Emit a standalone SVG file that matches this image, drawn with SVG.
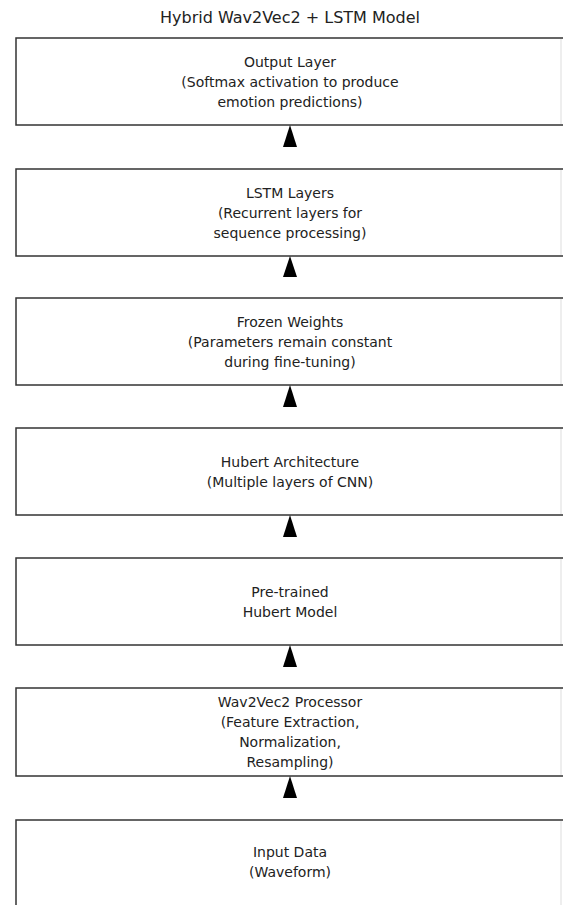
<svg xmlns="http://www.w3.org/2000/svg" width="563" height="905" viewBox="0 0 563 905">
<style>
.box{fill:#fff;stroke:#333;stroke-width:1.5}
.edge{stroke:#ddd;stroke-width:1}
text{font-family:"DejaVu Sans",sans-serif;font-size:14px;fill:#222;text-anchor:middle}
.title{font-size:16px}
.arr{fill:#000}
</style>
<rect width="563" height="905" fill="#fff"/>
<text class="title" x="290" y="23">Hybrid Wav2Vec2 + LSTM Model</text>
<g id="output">
<rect class="box" x="16" y="38" width="555" height="87"/>
<line class="edge" x1="561" y1="39" x2="561" y2="124"/>
<text x="290" y="67">Output Layer</text>
<text x="290" y="87">(Softmax activation to produce</text>
<text x="290" y="107">emotion predictions)</text>
</g>
<g id="lstm">
<rect class="box" x="16" y="169" width="555" height="87"/>
<line class="edge" x1="561" y1="170" x2="561" y2="255"/>
<text x="290" y="198">LSTM Layers</text>
<text x="290" y="218">(Recurrent layers for</text>
<text x="290" y="238">sequence processing)</text>
</g>
<g id="frozen">
<rect class="box" x="16" y="298" width="555" height="87"/>
<line class="edge" x1="561" y1="299" x2="561" y2="384"/>
<text x="290" y="327">Frozen Weights</text>
<text x="290" y="347">(Parameters remain constant</text>
<text x="290" y="367">during fine-tuning)</text>
</g>
<g id="hubert_arch">
<rect class="box" x="16" y="428" width="555" height="87"/>
<line class="edge" x1="561" y1="429" x2="561" y2="514"/>
<text x="290" y="467">Hubert Architecture</text>
<text x="290" y="487">(Multiple layers of CNN)</text>
</g>
<g id="pretrained">
<rect class="box" x="16" y="558" width="555" height="87"/>
<line class="edge" x1="561" y1="559" x2="561" y2="644"/>
<text x="290" y="597">Pre-trained</text>
<text x="290" y="617">Hubert Model</text>
</g>
<g id="processor">
<rect class="box" x="16" y="688" width="555" height="88"/>
<line class="edge" x1="561" y1="689" x2="561" y2="775"/>
<text x="290" y="707">Wav2Vec2 Processor</text>
<text x="290" y="727">(Feature Extraction,</text>
<text x="290" y="747">Normalization,</text>
<text x="290" y="767">Resampling)</text>
</g>
<g id="input">
<rect class="box" x="16" y="820" width="555" height="95"/>
<line class="edge" x1="561" y1="821" x2="561" y2="905"/>
<text x="290" y="857">Input Data</text>
<text x="290" y="877">(Waveform)</text>
</g>
<g id="connectors">
<polygon class="arr" points="290,125 283,147 297,147"/>
<polygon class="arr" points="290,256 283,277 297,277"/>
<polygon class="arr" points="290,385 283,407 297,407"/>
<polygon class="arr" points="290,515 283,537 297,537"/>
<polygon class="arr" points="290,645 283,667 297,667"/>
<polygon class="arr" points="290,776 283,798 297,798"/>
</g>
</svg>
